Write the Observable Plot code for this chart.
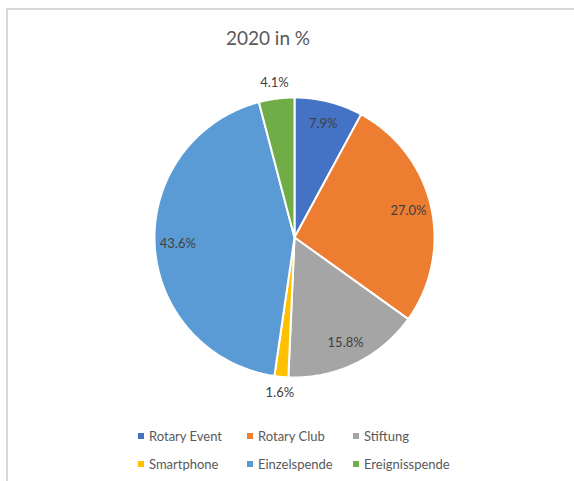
<!DOCTYPE html>
<html>
<head>
<meta charset="utf-8">
<script src="https://cdn.jsdelivr.net/npm/d3@7"></script>
<script src="https://cdn.jsdelivr.net/npm/@observablehq/plot@0.6"></script>
<style>
  html, body { margin: 0; padding: 0; background: #fff; }
  #wrap { position: relative; width: 574px; height: 481px; overflow: hidden; font-family: Lato, "Open Sans", sans-serif; }
  #frame { position: absolute; left: 6px; top: 8px; width: 600px; height: 500px; border-left: 2px solid #d9d9d9; border-top: 2px solid #d9d9d9; box-sizing: border-box; }
  #title { position: absolute; left: 168px; width: 200px; top: 25px; text-align: center; font-size: 19px; color: #595959; line-height: 26px; }
  #chart { position: absolute; left: 124px; top: 67px; }
  .leg { position: absolute; display: flex; align-items: center; font-size: 13px; color: #595959; line-height: 16px; white-space: nowrap; }
  .leg i { display: inline-block; width: 6px; height: 6px; margin-right: 5px; }
</style>
</head>
<body>
<div id="wrap">
  <div id="frame"></div>
  <div id="title">2020 in %</div>
  <div id="chart"></div>
</div>
<script>
// ---- data ----
const categories = ["Rotary Event", "Rotary Club", "Stiftung", "Smartphone", "Einzelspende", "Ereignisspende"];
const shares = [7.9, 27.0, 15.8, 1.6, 43.6, 4.1];
const colors = ["#4472C4", "#ED7D31", "#A5A5A5", "#FFC000", "#5B9BD5", "#70AD47"];
const outsideLabel = [false, false, false, true, false, true];

// ---- geometry from data ----
const R = 140;
const total = d3.sum(shares);
const arcs = d3.pie().sort(null).value(d => d)(shares);
const polys = [];
arcs.forEach((a, i) => {
  const steps = Math.max(4, Math.ceil((a.endAngle - a.startAngle) / 0.01));
  polys.push({name: categories[i], x: 0, y: 0});
  for (let k = 0; k <= steps; k++) {
    const t = a.startAngle + (a.endAngle - a.startAngle) * k / steps;
    polys.push({name: categories[i], x: R * Math.sin(t), y: R * Math.cos(t)});
  }
  polys.push({name: categories[i], x: 0, y: 0});
});
const labels = arcs.map((a, i) => {
  const m = (a.startAngle + a.endAngle) / 2;
  const r = outsideLabel[i] ? R + 16 : R * 0.835;
  return {name: categories[i], text: shares[i].toFixed(1) + "%", x: r * Math.sin(m), y: r * Math.cos(m)};
});

const S = 170;
const chart = Plot.plot({
  width: 340, height: 340,
  margin: 0,
  x: {domain: [-S, S], axis: null},
  y: {domain: [-S, S], axis: null},
  color: {domain: categories, range: colors},
  style: {fontFamily: "Lato, 'Open Sans', sans-serif", background: "transparent", overflow: "visible"},
  marks: [
    Plot.line(polys, {x: "x", y: "y", z: "name", fill: "name", stroke: "white", strokeWidth: 2, strokeLinejoin: "round", curve: "linear"}),
    Plot.text(labels, {x: "x", y: "y", text: "text", fill: "#404040", fontSize: 13})
  ]
});
document.getElementById("chart").appendChild(chart);

// ---- legend ----
const wrap = document.getElementById("wrap");
const colX = [138, 247, 353];
const rowY = [436, 464];
categories.forEach((c, i) => {
  const el = document.createElement("div");
  el.className = "leg";
  el.style.left = colX[i % 3] + "px";
  el.style.top = (rowY[Math.floor(i / 3)] - 8) + "px";
  el.innerHTML = `<i style="background:${colors[i]}"></i>${c}`;
  wrap.appendChild(el);
});
</script>
</body>
</html>
